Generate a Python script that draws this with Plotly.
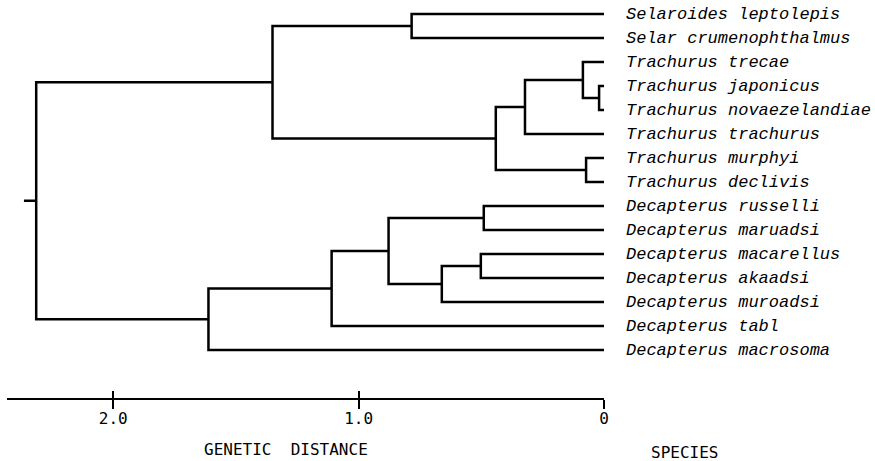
import plotly.graph_objects as go

# ---------------- data ----------------
species = [
    "Selaroides leptolepis", "Selar crumenophthalmus", "Trachurus trecae",
    "Trachurus japonicus", "Trachurus novaezelandiae", "Trachurus trachurus",
    "Trachurus murphyi", "Trachurus declivis", "Decapterus russelli",
    "Decapterus maruadsi", "Decapterus macarellus", "Decapterus akaadsi",
    "Decapterus muroadsi", "Decapterus tabl", "Decapterus macrosoma",
]
# linkage: merge k creates node len(species)+k
merge_left = [3, 6, 2, 17, 18, 8, 10, 21, 0, 20, 24, 23, 25, 26]
merge_right = [4, 7, 15, 5, 16, 9, 11, 12, 1, 22, 13, 19, 14, 27]
merge_dist = [0.02, 0.073, 0.086, 0.322, 0.441, 0.49, 0.502, 0.661,
              0.784, 0.878, 1.11, 1.351, 1.612, 2.314]
root_stub = 0.05
tick_vals = [0, 1, 2]
tick_text = ["0", "1.0", "2.0"]
axis_max = 2.433
x_title = "GENETIC\u00a0\u00a0DISTANCE"
species_title = "SPECIES"

# ---------------- tree geometry ----------------
n = len(species)
node_d = [0.0] * n
node_y = [float(i) for i in range(n)]
xs, ys = [], []
for a, b, d in zip(merge_left, merge_right, merge_dist):
    ya, yb = node_y[a], node_y[b]
    xs += [node_d[a], d, d, node_d[b], None]
    ys += [ya, ya, yb, yb, None]
    node_d.append(d)
    node_y.append((ya + yb) / 2)
root = len(node_d) - 1
xs += [node_d[root], node_d[root] + root_stub, None]
ys += [node_y[root], node_y[root], None]

FONT_AX = "DejaVu Sans Mono"
FONT_SP = "Liberation Mono"

fig = go.Figure()
fig.add_trace(go.Scatter(x=xs, y=ys, mode="lines",
                         line=dict(color="black", width=2.5),
                         hoverinfo="skip", showlegend=False))
# invisible trace to hold the overlay axis (upper half of ticks)
fig.add_trace(go.Scatter(x=[0], y=[0], xaxis="x2", mode="markers",
                         marker=dict(opacity=0), hoverinfo="skip",
                         showlegend=False))

for i, name in enumerate(species):
    fig.add_annotation(x=0, y=i, xref="x", yref="y", text=name,
                       showarrow=False, xanchor="left", yanchor="middle",
                       xshift=20,
                       font=dict(family=FONT_SP, size=17, color="black",
                                 style="italic"))

fig.add_annotation(x=(286 - 7) / 597, y=(398 - 450) / 398, xref="paper",
                   yref="paper", text=x_title, showarrow=False,
                   xanchor="center", yanchor="middle",
                   font=dict(family=FONT_AX, size=16, color="black"))
fig.add_annotation(x=(684 - 7) / 597, y=(398 - 452) / 398, xref="paper",
                   yref="paper", text=species_title, showarrow=False,
                   xanchor="center", yanchor="middle",
                   font=dict(family=FONT_AX, size=16, color="black"))

fig.update_layout(
    width=875, height=461,
    margin=dict(l=7, r=271, t=0, b=63),
    paper_bgcolor="white", plot_bgcolor="white",
    hovermode=False,
    xaxis=dict(range=[axis_max, 0], showgrid=False, zeroline=False,
               showline=True, linecolor="black", linewidth=2,
               ticks="outside", ticklen=9, tickwidth=2, tickcolor="black",
               tickvals=tick_vals, ticktext=tick_text,
               ticklabelstandoff=-4,
               tickfont=dict(family=FONT_AX, size=16, color="black")),
    xaxis2=dict(range=[axis_max, 0], overlaying="x", anchor="y",
                side="bottom", showgrid=False, zeroline=False,
                showline=False, ticks="inside", ticklen=7, tickwidth=2,
                tickcolor="black", tickvals=tick_vals,
                showticklabels=False),
    yaxis=dict(range=[16, -14 / 24], visible=False, showgrid=False,
               zeroline=False),
)

fig.write_html("out.html",
               config={"displayModeBar": False, "staticPlot": True},
               post_script="document.body.style.margin='0';"
                           "document.body.style.overflow='hidden';")
